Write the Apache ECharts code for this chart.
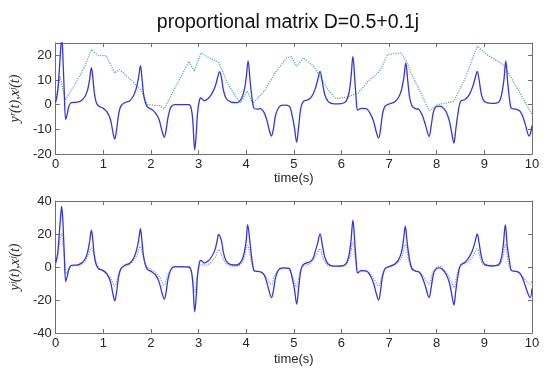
<!DOCTYPE html>
<html>
<head>
<meta charset="utf-8">
<script src="https://cdn.jsdelivr.net/npm/echarts@6/dist/echarts.min.js"></script>
<style>html,body{margin:0;padding:0;background:#fff}#c{width:550px;height:376px}</style>
</head>
<body>
<div id="c"></div>
<script>
const titleText = 'proportional matrix D=0.5+0.1j';
const xTicks = [0,1,2,3,4,5,6,7,8,9,10];
const topYLabel = 'yʳ(t),xʲ(t)';
const botYLabel = 'yʲ(t),xʲ(t)';
const xLabel = 'time(s)';

// top panel, solid (blue)
const topSolid = [
[0.00,1],[0.04,5],[0.08,15],[0.11,24],[0.13,27],[0.15,20],[0.18,5],[0.21,-6],[0.24,-4],[0.28,-0.5],
[0.33,0.8],[0.45,1],[0.55,1.8],[0.62,3.5],[0.67,6],[0.71,10],[0.75,15],[0.78,11],[0.81,5],[0.85,1],
[0.9,-0.5],[1.0,-1.5],[1.08,-3],[1.15,-6],[1.2,-11],[1.24,-14],[1.28,-10],[1.32,-4],[1.37,-0.5],[1.45,0.8],
[1.55,1.5],[1.63,3.5],[1.69,6.5],[1.74,11],[1.78,15.8],[1.81,11],[1.84,5],[1.88,1],[1.93,-1],[2.02,-2],
[2.1,-3.5],[2.17,-6],[2.23,-10.5],[2.28,-13.2],[2.32,-10],[2.36,-5],[2.42,-1],[2.5,0],[2.8,0],[2.85,-2],
[2.88,-7],[2.92,-18.3],[2.95,-12],[2.98,-3],[3.02,2],[3.05,2.7],[3.12,1.6],[3.2,2.5],[3.28,4.5],[3.35,7.5],
[3.4,11],[3.44,13.4],[3.48,11],[3.52,6],[3.58,2.5],[3.68,1],[3.8,0.8],[3.9,2.5],[3.96,6],[4.0,11],
[4.04,17.7],[4.08,10],[4.12,3],[4.16,-1.4],[4.22,-1.8],[4.3,-1.6],[4.37,-3],[4.43,-6],[4.48,-10],[4.53,-12.7],
[4.57,-10],[4.62,-4],[4.7,-0.7],[4.8,-0.2],[4.9,-0.5],[4.96,-4],[5.01,-9],[5.06,-15.2],[5.1,-9],[5.15,-1],
[5.2,1.3],[5.3,2],[5.38,3.5],[5.45,6.5],[5.5,10],[5.55,13.5],[5.6,9],[5.65,4],[5.72,1.3],[5.85,0.3],
[6.0,0.4],[6.1,1.5],[6.16,5],[6.2,11],[6.24,19.6],[6.28,10],[6.31,2],[6.34,-2.2],[6.42,-1.5],[6.52,-1.6],
[6.6,-3.5],[6.67,-6.5],[6.73,-11],[6.78,-13.6],[6.82,-10],[6.86,-4],[6.92,-0.5],[7.04,0.5],[7.12,1.2],[7.2,3],
[7.26,6],[7.31,11],[7.35,16.9],[7.39,10],[7.43,3],[7.48,-0.5],[7.55,-1.6],[7.63,-2],[7.7,-4.5],[7.76,-8],
[7.84,-12.9],[7.88,-9],[7.93,-3],[7.98,-0.9],[8.05,-0.6],[8.12,-1],[8.2,-3],[8.27,-7],[8.32,-12],[8.36,-15.6],
[8.4,-10],[8.45,-3],[8.5,1.3],[8.6,2.2],[8.68,4],[8.75,7],[8.81,11],[8.85,13.5],[8.89,10],[8.94,4],
[9.0,1.3],[9.15,0.5],[9.3,1],[9.36,4],[9.41,10],[9.45,17.7],[9.49,9],[9.53,2],[9.57,-1.5],[9.66,-1.8],
[9.74,-2.5],[9.8,-4.5],[9.86,-8],[9.94,-12.7],[9.97,-11.5],[10.0,-8.5]
];
// top panel, dotted (teal)
const topDotted = [
[0.0,2],[0.09,11.5],[0.2,2],[0.4,8],[0.61,15.5],[0.75,22.3],[0.89,19.9],[1.06,19.9],[1.24,12.8],[1.34,14.2],
[1.58,10],[1.79,6],[1.93,0],[2.2,-0.5],[2.28,-1.7],[2.47,5.5],[2.62,11],[2.8,17.5],[2.91,13.5],[3.05,21],
[3.22,19],[3.43,17],[3.6,9],[3.78,3.3],[3.88,0.8],[4.02,5.5],[4.14,0.5],[4.4,6],[4.6,12.8],[4.85,19],
[4.95,19.5],[5.06,15.5],[5.2,19],[5.42,15.5],[5.72,6],[5.88,2.5],[6.1,3],[6.35,4.7],[6.56,9.5],[6.8,13.5],
[6.97,20.3],[7.25,21],[7.38,17],[7.46,12.8],[7.65,5.4],[7.84,-2.5],[8.01,0],[8.36,1.3],[8.6,10.8],[8.85,23.7],
[9.05,20.3],[9.4,16.2],[9.75,4.7],[10.0,-4]
];
// bottom panel, solid (blue)
const botSolid = [
[0.00,2.6],[0.04,8],[0.08,22],[0.11,33],[0.125,36.8],[0.15,28],[0.18,8],[0.21,-8.8],[0.24,-6],[0.28,-1],
[0.33,1],[0.45,1.2],[0.55,2.5],[0.62,5],[0.67,9],[0.71,15],[0.75,22.3],[0.78,16],[0.81,7],[0.85,1.5],
[0.9,-1],[1.0,-2.2],[1.08,-4.5],[1.15,-9],[1.2,-16],[1.24,-20.5],[1.28,-15],[1.32,-6],[1.37,-1],[1.45,1],
[1.55,2.2],[1.63,5],[1.69,9.5],[1.74,16],[1.78,23.3],[1.81,16],[1.84,7.5],[1.88,1.5],[1.93,-1.5],[2.02,-3],
[2.1,-5],[2.17,-9],[2.23,-15.5],[2.28,-19.5],[2.32,-15],[2.36,-7],[2.42,-1.5],[2.5,0.2],[2.8,0],[2.85,-3],
[2.88,-10],[2.92,-27.1],[2.95,-18],[2.98,-4.5],[3.02,3],[3.05,4],[3.12,2.4],[3.2,3.6],[3.28,6.5],[3.35,11],
[3.39,16],[3.42,19.7],[3.48,16],[3.52,9],[3.58,3.6],[3.68,1.5],[3.8,1.2],[3.9,3.6],[3.96,9],[4.0,16],
[4.03,25.7],[4.08,14.5],[4.12,4.5],[4.17,-2.4],[4.22,-2.6],[4.3,-3],[4.37,-4.5],[4.43,-9],[4.48,-14.5],[4.53,-18.5],
[4.57,-14.5],[4.62,-6],[4.7,-1],[4.8,-0.5],[4.9,-0.8],[4.96,-6],[5.01,-13],[5.06,-22.5],[5.1,-13],[5.15,-1.5],
[5.2,1.5],[5.34,3.2],[5.4,5],[5.45,9.5],[5.5,14.5],[5.55,20.1],[5.6,13],[5.65,6],[5.72,1.8],[5.85,0.5],
[6.0,0.6],[6.1,2.2],[6.16,7.5],[6.2,16],[6.24,28.4],[6.28,14.5],[6.31,3],[6.34,-3.6],[6.42,-2.2],[6.52,-2.4],
[6.6,-5],[6.67,-9.5],[6.73,-16],[6.78,-20.1],[6.82,-14.5],[6.86,-6],[6.92,-0.8],[7.04,0.7],[7.12,1.8],[7.2,4.5],
[7.26,9],[7.3,16],[7.34,24.7],[7.38,14.5],[7.43,4.5],[7.48,-1],[7.55,-2.4],[7.63,-3],[7.7,-6.5],[7.76,-11.5],
[7.84,-18.5],[7.88,-13],[7.93,-4.5],[7.98,-1.3],[8.05,-0.5],[8.12,-1.5],[8.2,-4.5],[8.27,-10],[8.32,-17.5],[8.36,-23.1],
[8.4,-14.5],[8.45,-4.5],[8.5,1.2],[8.6,3],[8.68,6],[8.75,10],[8.81,16],[8.85,20.1],[8.89,14.5],[8.94,6],
[9.0,1.8],[9.15,0.6],[9.3,1.5],[9.36,6],[9.4,14],[9.44,25.7],[9.48,13],[9.53,3],[9.57,-2.2],[9.66,-2.6],
[9.74,-3.6],[9.8,-6.5],[9.86,-11.5],[9.96,-18.5],[10.0,-13]
];
// bottom panel, dotted (light blue)
const botDotted = [
[0.0,2],[0.05,8],[0.09,16],[0.125,20.5],[0.16,12],[0.19,2],[0.22,-4],[0.26,-2.5],[0.33,0.5],[0.45,1],
[0.55,2],[0.62,4],[0.68,7],[0.75,11.5],[0.8,8],[0.85,2.5],[0.92,-1],[1.0,-2.5],[1.08,-4],[1.15,-6.5],
[1.24,-11.5],[1.3,-7],[1.37,-1.5],[1.45,0.5],[1.55,1.5],[1.63,4],[1.7,7],[1.78,12.5],[1.83,7],[1.9,1],
[2.0,-1.5],[2.1,-3.5],[2.18,-6],[2.28,-11],[2.34,-6],[2.42,-1.5],[2.5,0],[2.8,-0.5],[2.86,-4],[2.92,-15],
[2.97,-6],[3.02,0.5],[3.08,1.5],[3.15,1],[3.25,2.5],[3.35,6],[3.42,10.5],[3.5,6],[3.6,1.5],[3.8,0.5],
[3.92,3],[4.03,13],[4.1,4],[4.17,-2],[4.3,-3],[4.4,-5.5],[4.53,-10.5],[4.6,-5],[4.7,-1.5],[4.85,-0.8],
[4.95,-4],[5.06,-12],[5.13,-3],[5.2,0.5],[5.34,2],[5.45,6],[5.55,11],[5.62,5],[5.72,1],[6.0,0.3],
[6.15,4],[6.24,15],[6.3,3],[6.36,-2.5],[6.52,-2.5],[6.65,-6],[6.78,-11.5],[6.85,-5],[6.92,-1],[7.1,1],
[7.25,5],[7.34,13.5],[7.42,3],[7.5,-2],[7.65,-3.5],[7.75,-7],[7.84,-10.5],[7.92,-3],[8.05,0.5],[8.2,-3.5],
[8.3,-8],[8.36,-12.5],[8.43,-4],[8.5,0.5],[8.65,3],[8.75,6],[8.85,11],[8.92,5],[9.0,1],[9.3,1],
[9.38,5],[9.44,14],[9.5,3],[9.57,-2],[9.7,-3],[9.82,-6.5],[9.96,-10.5],[10.0,-8]
];

const FONT = 'Liberation Sans, Arial, sans-serif';
const axisColor = '#6e6e6e';
const labelStyle = {color:'#262626', fontSize:13, fontFamily:FONT};

function xAxes(gi){
  return [
    {type:'value', gridIndex:gi, min:0, max:10, interval:1, position:'bottom',
     axisLine:{show:true, onZero:false, lineStyle:{color:axisColor, width:1}},
     axisTick:{show:true, inside:true, length:4, lineStyle:{color:axisColor}},
     axisLabel:Object.assign({margin:4}, labelStyle),
     splitLine:{show:false},
     name:xLabel, nameLocation:'middle', nameGap:gi===0?18:20,
     nameTextStyle:{color:'#262626', fontSize:13, fontFamily:FONT}},
    {type:'value', gridIndex:gi, min:0, max:10, interval:1, position:'top',
     axisLine:{show:true, onZero:false, lineStyle:{color:axisColor, width:1}},
     axisTick:{show:true, inside:true, length:4, lineStyle:{color:axisColor}},
     axisLabel:{show:false}, splitLine:{show:false}}
  ];
}
function yAxes(gi, min, max, interval, name, hideMax){
  return [
    {type:'value', gridIndex:gi, min:min, max:max, interval:interval, position:'left',
     axisLine:{show:true, onZero:false, lineStyle:{color:axisColor, width:1}},
     axisTick:{show:true, inside:true, length:4, lineStyle:{color:axisColor}},
     axisLabel:Object.assign({margin:4, showMaxLabel: hideMax ? false : null}, labelStyle),
     splitLine:{show:false},
     name:name, nameLocation:'middle', nameGap:24, nameRotate:90,
     nameTextStyle:{color:'#262626', fontSize:14, fontStyle:'italic', fontFamily:'Liberation Serif, Times New Roman, serif'}},
    {type:'value', gridIndex:gi, min:min, max:max, interval:interval, position:'right',
     axisLine:{show:true, onZero:false, lineStyle:{color:axisColor, width:1}},
     axisTick:{show:true, inside:true, length:4, lineStyle:{color:axisColor}},
     axisLabel:{show:false}, splitLine:{show:false}}
  ];
}

const chart = echarts.init(document.getElementById('c'), null, {renderer:'canvas'});
chart.setOption({
  animation:false,
  backgroundColor:'#ffffff',
  title:{text:titleText, left:283, top:8, textAlign:'center',
         textStyle:{fontSize:19.5, fontWeight:'normal', color:'#111', fontFamily:FONT}},
  grid:[
    {left:52, right:18, top:43, height:111},
    {left:52, right:18, top:201, height:132}
  ],
  xAxis:[].concat(xAxes(0), xAxes(1)),
  yAxis:[].concat(yAxes(0,-20,25,10,topYLabel,true), yAxes(1,-40,40,20,botYLabel,false)),
  series:[
    {type:'line', xAxisIndex:0, yAxisIndex:0, data:topDotted, showSymbol:false, clip:true,
     lineStyle:{color:'#52a5b8', width:1.2, type:'dotted'}},
    {type:'line', xAxisIndex:0, yAxisIndex:0, data:topSolid, showSymbol:false, clip:true,
     smooth:0.35, lineStyle:{color:'#3535e0', width:1.3}},
    {type:'line', xAxisIndex:2, yAxisIndex:2, data:botDotted, showSymbol:false, clip:true,
     smooth:0.35, lineStyle:{color:'#7f95ea', width:1.2, type:'dotted'}},
    {type:'line', xAxisIndex:2, yAxisIndex:2, data:botSolid, showSymbol:false, clip:true,
     smooth:0.35, lineStyle:{color:'#3535e0', width:1.3}}
  ]
});
</script>
</body>
</html>
